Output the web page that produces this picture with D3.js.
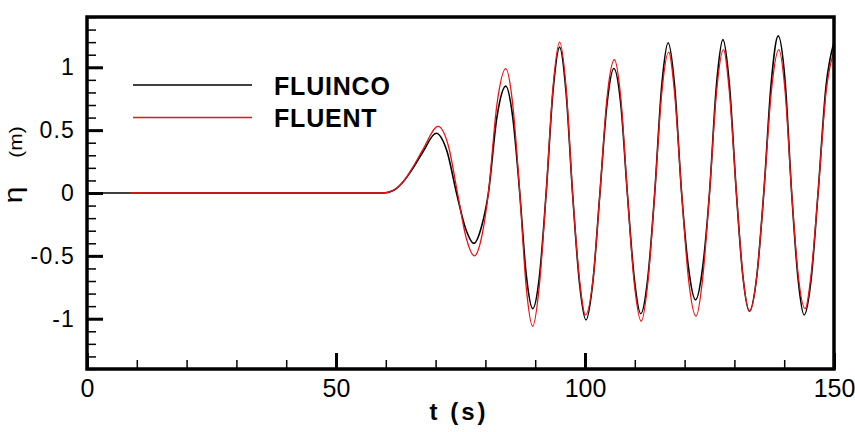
<!DOCTYPE html>
<html>
<head>
<meta charset="utf-8">
<script src="https://cdn.jsdelivr.net/npm/d3@7/dist/d3.min.js"></script>
<style>
  body { margin: 0; background: #fff; }
  svg { display: block; font-family: "Liberation Sans", Arial, sans-serif; }
</style>
</head>
<body>
<svg id="chart" width="855" height="432"></svg>
<script>
// FLUINCO (black) time / elevation
var fluincoT = [0, 59.5, 61.5, 63.5, 65.5, 67.5, 70.1, 72.3, 74.2, 76.0, 77.7, 79.2, 80.6, 82.3, 84.1,
  85.5, 86.9, 88.2, 89.5, 90.8, 92.2, 93.6, 94.9, 96.2, 97.5, 98.9, 100.2, 101.6, 103.0, 104.4, 105.8,
  107.2, 108.5, 109.9, 111.2, 112.6, 114.0, 115.4, 116.7, 118.0, 119.4, 120.8, 122.2, 123.6, 125.0,
  126.4, 127.7, 129.0, 130.4, 131.7, 133.0, 134.5, 135.9, 137.4, 138.8, 140.2, 141.5, 142.8, 144.0,
  145.4, 146.8, 148.4, 150];
var fluincoEta = [0, 0, 0.02, 0.09, 0.2, 0.33, 0.475, 0.33, 0, -0.28, -0.40, -0.27, 0, 0.6, 0.85,
  0.6, 0, -0.65, -0.92, -0.68, 0, 0.82, 1.16, 0.8, 0, -0.72, -1.01, -0.7, 0, 0.7, 0.99,
  0.7, 0, -0.68, -0.96, -0.68, 0, 0.85, 1.195, 0.85, 0, -0.6, -0.85, -0.6, 0,
  0.86, 1.22, 0.86, 0, -0.66, -0.94, -0.66, 0, 0.88, 1.25, 0.88, 0, -0.69, -0.97,
  -0.69, 0, 0.85, 1.2];

// FLUENT (red)
var fluentT = [8.6, 59.5, 61.5, 63.5, 65.5, 67.5, 70.5, 72.6, 74.4, 76.1, 77.8, 79.3, 80.6, 82.3, 84.1,
  85.5, 86.9, 88.2, 89.5, 90.8, 92.2, 93.6, 94.9, 96.2, 97.5, 98.9, 100.1, 101.6, 103.0, 104.4, 105.9,
  107.2, 108.5, 109.9, 111.3, 112.6, 114.0, 115.4, 116.8, 118.0, 119.4, 120.8, 122.3, 123.6, 125.0,
  126.4, 127.8, 129.0, 130.4, 131.7, 133.1, 134.5, 135.9, 137.4, 138.9, 140.2, 141.5, 142.8, 144.2,
  145.4, 146.8, 148.4, 150];
var fluentEta = [0, 0, 0.02, 0.09, 0.21, 0.35, 0.53, 0.37, 0, -0.35, -0.50, -0.34, 0, 0.7, 0.99,
  0.7, 0, -0.75, -1.06, -0.75, 0, 0.85, 1.20, 0.84, 0, -0.69, -0.97, -0.69, 0, 0.75, 1.06,
  0.75, 0, -0.72, -1.02, -0.72, 0, 0.79, 1.12, 0.79, 0, -0.69, -0.98, -0.69, 0,
  0.8, 1.14, 0.8, 0, -0.66, -0.94, -0.66, 0, 0.8, 1.14, 0.8, 0, -0.65, -0.92,
  -0.65, 0, 0.8, 1.13];

var xMajor = [0, 50, 100, 150];
var xMinor = d3.range(10, 150, 10).filter(function(d) { return d % 50 != 0; });
var yMajor = [-1, -0.5, 0, 0.5, 1];
var yMinor = d3.range(-14, 15).map(function(d) { return d / 10; })
  .filter(function(d) { return Math.abs(d * 2 - Math.round(d * 2)) > 1e-6; });

var seriesNames = ["FLUINCO", "FLUENT"];
var seriesColors = ["#000", "#ee1111"];

var svg = d3.select("#chart");
var x = d3.scaleLinear().domain([0, 150]).range([87, 834]);
var y = d3.scaleLinear().domain([-1.4, 1.4]).range([369, 17]);

function zip(ts, vs) { return ts.map(function(t, i) { return [t, vs[i]]; }); }
var series = [zip(fluincoT, fluincoEta), zip(fluentT, fluentEta)];

svg.append("clipPath").attr("id", "clip")
  .append("rect").attr("x", 87).attr("y", 17).attr("width", 747).attr("height", 352);

var line = d3.line()
  .curve(d3.curveMonotoneX)
  .x(function(d) { return x(d[0]); })
  .y(function(d) { return y(d[1]); });

svg.append("g").attr("clip-path", "url(#clip)")
  .selectAll("path").data(series).enter().append("path")
  .attr("d", line)
  .attr("fill", "none")
  .attr("stroke", function(d, i) { return seriesColors[i]; })
  .attr("stroke-width", function(d, i) { return i == 0 ? 1.6 : 1.3; });

// axes, ticks pointing inward
var fmt = function(d) { return String(d); };

var gx = svg.append("g").attr("transform", "translate(0,369)");
gx.call(d3.axisBottom(x).tickValues(xMinor).tickSize(-9).tickFormat(""));
gx.selectAll(".tick line").attr("stroke-width", 1.5);
gx.select(".domain").remove();
var gx2 = svg.append("g").attr("transform", "translate(0,369)");
gx2.call(d3.axisBottom(x).tickValues(xMajor).tickSize(-16).tickPadding(10).tickFormat(fmt));
gx2.selectAll(".tick line").attr("stroke-width", 3);
gx2.select(".domain").remove();
gx2.selectAll("text").attr("font-size", 25).attr("fill", "#000")
  .attr("font-family", "'Liberation Sans', Arial, sans-serif");

var gy = svg.append("g").attr("transform", "translate(87,0)");
gy.call(d3.axisLeft(y).tickValues(yMinor).tickSize(-9).tickFormat(""));
gy.selectAll(".tick line").attr("stroke-width", 1.5);
gy.select(".domain").remove();
var gy2 = svg.append("g").attr("transform", "translate(87,0)");
gy2.call(d3.axisLeft(y).tickValues(yMajor).tickSize(-16).tickPadding(12).tickFormat(fmt));
gy2.selectAll(".tick line").attr("stroke-width", 3);
gy2.select(".domain").remove();
gy2.selectAll("text").attr("font-size", 23).attr("fill", "#000")
  .attr("letter-spacing", 1.2)
  .attr("font-family", "'Liberation Sans', Arial, sans-serif");

// frame
svg.append("rect")
  .attr("x", x(0)).attr("y", y(1.4))
  .attr("width", x(150) - x(0)).attr("height", y(-1.4) - y(1.4))
  .attr("fill", "none").attr("stroke", "#000").attr("stroke-width", 3.5);

// axis titles
svg.append("text")
  .attr("x", 459).attr("y", 420)
  .attr("text-anchor", "middle")
  .attr("font-size", 24).attr("font-weight", "bold")
  .attr("letter-spacing", 3)
  .text("t (s)");

svg.append("text")
  .attr("transform", "translate(22,195) rotate(-90) scale(1.15,1)")
  .attr("text-anchor", "middle")
  .attr("font-size", 26)
  .text("η");
svg.append("text")
  .attr("transform", "translate(22,142) rotate(-90) scale(1.1,1)")
  .attr("text-anchor", "middle")
  .attr("font-size", 19)
  .text("(m)");

// legend
var leg = svg.append("g").selectAll("g").data(seriesNames).enter().append("g")
  .attr("transform", function(d, i) { return "translate(0," + (85 + i * 32.5) + ")"; });
leg.append("line")
  .attr("x1", 133).attr("x2", 252)
  .attr("stroke", function(d, i) { return seriesColors[i]; })
  .attr("stroke-width", function(d, i) { return i == 0 ? 1.4 : 1.3; });
leg.append("text")
  .attr("x", 274).attr("y", 9.5)
  .attr("font-size", 25).attr("font-weight", "bold")
  .attr("letter-spacing", 0.8)
  .text(function(d) { return d; });
</script>
</body>
</html>
